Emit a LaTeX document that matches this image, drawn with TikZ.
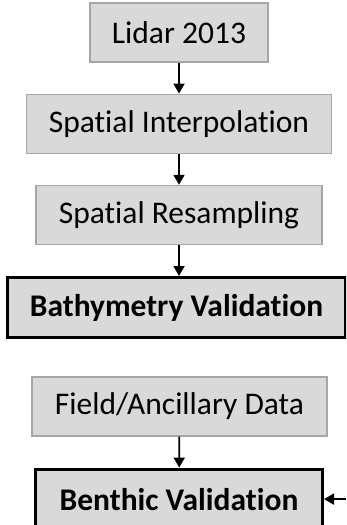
\documentclass[tikz,border=0pt]{standalone}
\usepackage{fontspec}
\setmainfont{Carlito}[Ligatures={NoCommon}]
\usetikzlibrary{positioning}
\usetikzlibrary{arrows.meta}
\definecolor{boxgray}{HTML}{D9D9D9}
\definecolor{edgegray}{HTML}{A6A6A6}

\begin{document}
\begin{tikzpicture}[x=1pt,y=1pt,
    step box/.style={draw=edgegray, fill=boxgray, line width=1.2pt, minimum height=59pt,
        inner sep=0pt, font=\fontsize{31.5}{36}\selectfont},
    result box/.style={draw=black, fill=boxgray, line width=3pt, minimum height=60pt,
        inner sep=0pt, font=\fontsize{31.5}{36}\selectfont\bfseries},
    flow/.style={-{Triangle[length=10pt,width=11pt]}, line width=1.8pt},
    node distance=31pt
]
\useasboundingbox (0,0) rectangle (346,-525);
\clip (0,0) rectangle (346,-525);
\node [step box, minimum width=178pt] (lidar) at (179,-32.5) {Lidar 2013};
\node [step box, minimum width=305pt, below=of lidar] (interp) {Spatial Interpolation};
\node [step box, minimum width=286pt, below=of interp] (resamp) {Spatial Resampling};
\node [result box, minimum width=338pt, below=of resamp, xshift=-2.5pt] (bathy) {Bathymetry Validation};
\node [step box, minimum width=295pt] (field) at (179.5,-406.5) {Field/Ancillary Data};
\node [result box, minimum width=287pt, below=of field, xshift=-0.5pt] (benthic) {Benthic Validation};
\coordinate (side) at (346,0 |- benthic.east);
\draw [flow] (lidar) -- (interp);
\draw [flow] (interp) -- (resamp);
\draw [flow] (resamp) -- (resamp |- bathy.north);
\draw [flow] (field) -- (benthic);
\draw [flow] (side) -- (benthic.east);
\end{tikzpicture}
\end{document}
